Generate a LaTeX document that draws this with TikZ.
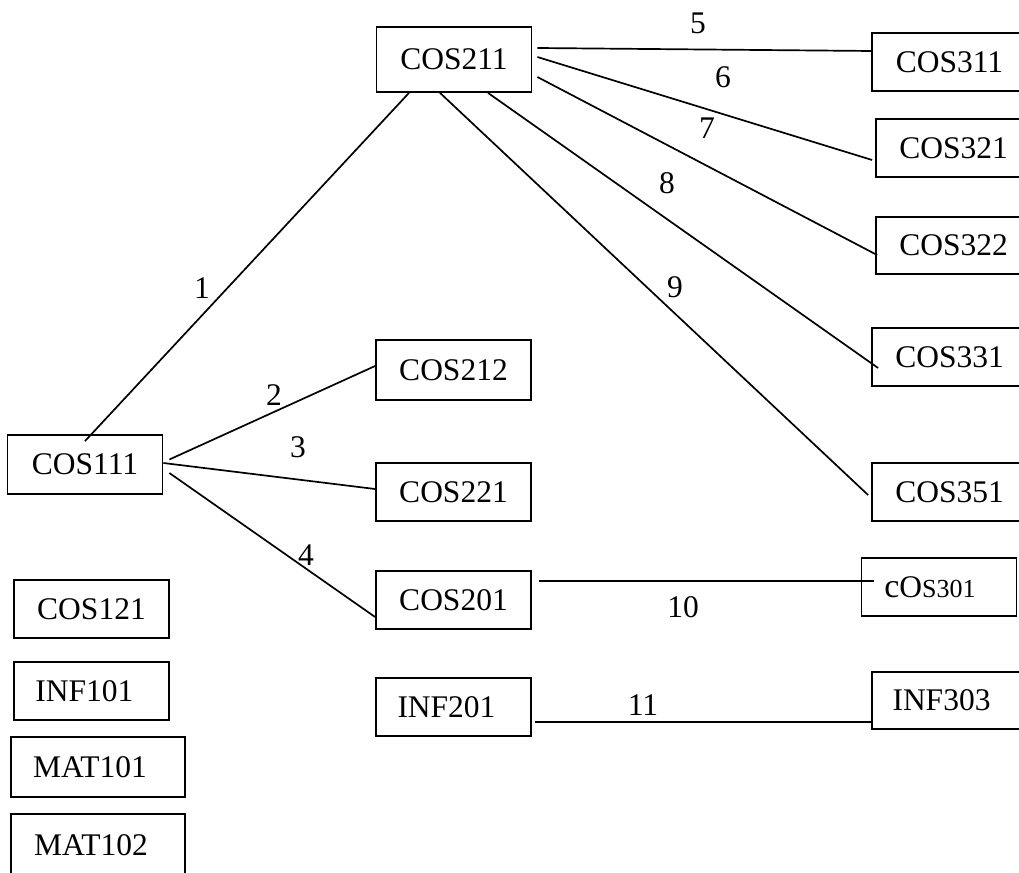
\documentclass[tikz,border=0pt]{standalone}
\usepackage{fontspec}
\setmainfont{Liberation Serif}
\begin{document}
\begin{tikzpicture}[x=1pt,y=-1pt,
  course/.style={draw=black,line width=1.8pt,rectangle,inner sep=0pt,
     minimum width=155pt,minimum height=58pt,
     font=\fontsize{31.5}{36}\selectfont},
  num/.style={inner sep=0pt,font=\fontsize{31.5}{36}\selectfont},
  link/.style={line width=1.7pt,black}]
\clip (0,0) rectangle (1019,872);
\fill[white] (0,0) rectangle (1019,872);
% boxes
\node[course,minimum height=65pt] (c211) at (454,59.5) {COS211};
\node[course] (c311) at (949.5,62) {COS311};
\node[course] (c321) at (953.5,148) {COS321};
\node[course,minimum height=57pt] (c322) at (953.5,245.5) {COS322};
\node[course] (c331) at (949.5,357) {COS331};
\node[course] (c351) at (949.5,492) {COS351};
\node[course] (c301) at (939,587) {{\fontsize{34}{36}\selectfont c}O{\fontsize{26}{30}\selectfont S301}\hspace*{18pt}};
\node[course,minimum height=57pt] (i303) at (949.5,700.5) {INF303\hspace*{16pt}};
\node[course,minimum height=59pt] (c111) at (85,464.5) {COS111};
\node[course,minimum height=60pt] (c212) at (453.5,370) {COS212};
\node[course] (c221) at (453.5,492) {COS221};
\node[course] (c201) at (453.5,600) {COS201};
\node[course] (i201) at (453.5,707) {INF201\hspace*{14pt}};
\node[course] (c121) at (91.5,609) {COS121};
\node[course] (i101) at (91.5,691) {INF101\hspace*{14pt}};
\node[course,minimum width=174pt,minimum height=60pt] (m101) at (98,767) {MAT101\hspace*{16pt}};
\node[course,minimum width=174pt,minimum height=62pt] (m102) at (98,845) {MAT102\hspace*{14pt}};
% connectors
\draw[link] ([yshift=-7pt]c111.north) -- ([xshift=-45pt]c211.south);
\draw[link] ([xshift=6pt,yshift=5pt]c111.east) -- ([yshift=4pt]c212.west);
\draw[link] ([yshift=1.5pt]c111.east) -- ([yshift=3pt]c221.west);
\draw[link] ([xshift=6pt,yshift=-8.5pt]c111.east) -- ([yshift=-17pt]c201.west);
\draw[link] ([xshift=5pt,yshift=11.5pt]c211.east) -- ([xshift=1pt,yshift=11pt]c311.west);
\draw[link] ([xshift=5pt,yshift=2.5pt]c211.east) -- ([xshift=-3pt,yshift=-12pt]c321.west);
\draw[link] ([xshift=5pt,yshift=-17.5pt]c211.east) -- ([xshift=2pt,yshift=-9.5pt]c322.west);
\draw[link] ([xshift=34pt]c211.south) -- ([xshift=7pt,yshift=-11pt]c331.west);
\draw[link] ([xshift=-14pt]c211.south) -- ([xshift=-3pt,yshift=-3pt]c351.west);
\draw[link] ([xshift=7pt,yshift=19pt]c201.east) -- ([xshift=13pt,yshift=6pt]c301.west);
\draw[link] ([xshift=3pt,yshift=-15pt]i201.east) -- ([xshift=1pt,yshift=-21.5pt]i303.west);
% labels
\node[num] (l1) at (202,288) {1};
\node[num] (l2) at (274,395) {2};
\node[num] (l3) at (298,447) {3};
\node[num] (l4) at (306,555) {4};
\node[num] (l5) at (698,23) {5};
\node[num] (l6) at (723,77) {6};
\node[num] (l7) at (707,128) {7};
\node[num] (l8) at (667,183) {8};
\node[num] (l9) at (675,287) {9};
\node[num] (l10) at (683,607) {10};
\node[num] (l11) at (643,705) {11};
\end{tikzpicture}
\end{document}
